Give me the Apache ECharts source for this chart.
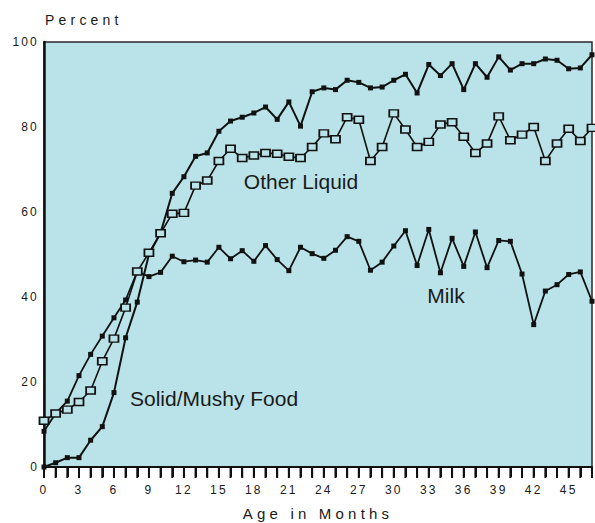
<!DOCTYPE html>
<html>
<head>
<meta charset="utf-8">
<script src="https://cdn.jsdelivr.net/npm/echarts@6/dist/echarts.min.js"></script>
<style>
  html, body { margin: 0; padding: 0; background: #ffffff; }
  #chart { width: 595px; height: 523px; }
</style>
</head>
<body>
<div id="chart"></div>
<script>
// ---- data ----
const months = [0,1,2,3,4,5,6,7,8,9,10,11,12,13,14,15,16,17,18,19,20,21,22,23,24,25,26,27,28,29,30,31,32,33,34,35,36,37,38,39,40,41,42,43,44,45,46,47];

const solidFood = [0, 1, 2.2, 2.2, 6.3, 9.5, 17.5, 30.4, 38.8, 50, 55.1, 64.4, 68.3, 73.1, 73.9, 79, 81.4, 82.3, 83.3, 84.7, 81.8, 85.9, 80.2, 88.3, 89.2, 88.8, 91, 90.5, 89.2, 89.4, 91, 92.4, 88, 94.7, 92.1, 94.9, 88.8, 94.9, 91.7, 96.5, 93.4, 94.9, 94.9, 96, 95.7, 93.7, 93.9, 97];

const otherLiquid = [10.9, 12.6, 13.5, 15.3, 18, 24.9, 30.2, 37.5, 46, 50.4, 55, 59.6, 59.8, 66.2, 67.4, 72, 74.9, 72.7, 73.3, 73.9, 73.7, 73, 72.7, 75.3, 78.5, 77.1, 82.3, 81.7, 72, 75.3, 83.2, 79.4, 75.3, 76.5, 80.6, 81.1, 77.7, 73.9, 76.1, 82.5, 76.9, 78.2, 80, 72, 76.1, 79.6, 76.7, 79.8];

const milk = [8.4, 12.6, 15.5, 21.5, 26.5, 30.8, 35.1, 39.3, 46, 44.8, 45.8, 49.6, 48.3, 48.7, 48.2, 51.7, 49, 50.9, 48.4, 52.1, 48.8, 46.2, 51.7, 50.2, 49.1, 51, 54.2, 53.1, 46.3, 48.2, 52, 55.6, 47.4, 55.9, 45.7, 53.8, 47.2, 55.3, 46.9, 53.3, 53.1, 45.4, 33.5, 41.4, 42.9, 45.3, 45.9, 39];

const yMin = 0, yMax = 100, yStep = 20;
const xMin = 0, xMax = 47, xTickStep = 1, xLabelEvery = 3;
const seriesNames = ['Solid/Mushy Food', 'Other Liquid', 'Milk'];
const yTitle = 'Percent';
const xTitle = 'Age in Months';

function pairs(vals) { return vals.map(function (v, i) { return [months[i], v]; }); }

// ---- chart ----
const FONT = '"Liberation Sans", Arial, Helvetica, sans-serif';
const PLOT_BG = '#b9e3e8';
const TICK_LEN = 10;
const chart = echarts.init(document.getElementById('chart'), null, { renderer: 'svg' });

const option = {
  animation: false,
  backgroundColor: '#ffffff',
  grid: {
    left: 44, right: 1, top: 42, bottom: 56,
    show: true, backgroundColor: PLOT_BG, borderColor: '#2a2a2a', borderWidth: 1.5
  },
  xAxis: {
    type: 'value',
    min: xMin, max: xMax, interval: xTickStep,
    axisLine: { show: true, onZero: false, lineStyle: { color: '#111', width: 2 } },
    axisTick: { show: true, inside: false, length: TICK_LEN, lineStyle: { color: '#111', width: 2 } },
    axisLabel: {
      margin: 17, color: '#1a1a1a', fontSize: 12, fontFamily: FONT,
      formatter: function (v) { return (v % xLabelEvery === 0 && v <= 45) ? String(v) : ''; }
    },
    splitLine: { show: false }
  },
  yAxis: {
    type: 'value',
    min: yMin, max: yMax, interval: yStep,
    axisLine: { show: true, lineStyle: { color: '#111', width: 2.5 } },
    axisTick: { show: false },
    axisLabel: { margin: 5, color: '#1a1a1a', fontSize: 12, fontFamily: FONT },
    splitLine: { show: false }
  },
  series: [
    {
      name: seriesNames[0], type: 'line', data: pairs(solidFood),
      symbol: 'rect', symbolSize: 5,
      lineStyle: { color: '#111', width: 2 }, itemStyle: { color: '#111' }, z: 3
    },
    {
      name: seriesNames[1], type: 'line', data: pairs(otherLiquid),
      symbol: 'rect', symbolSize: [9, 7],
      lineStyle: { color: '#111', width: 1.6 },
      itemStyle: { color: PLOT_BG, borderColor: '#111', borderWidth: 1.6 }, z: 4
    },
    {
      name: seriesNames[2], type: 'line', data: pairs(milk),
      symbol: 'rect', symbolSize: 5,
      lineStyle: { color: '#111', width: 1.8 }, itemStyle: { color: '#111' }, z: 3
    }
  ],
  graphic: [
    { type: 'text', left: 45, top: 13, style: { text: yTitle, font: '14px ' + FONT, fill: '#1a1a1a' } },
    { type: 'text', x: 318, y: 513, style: { text: xTitle, font: '15px ' + FONT, fill: '#1a1a1a', textAlign: 'center', textVerticalAlign: 'middle' } },
    { type: 'text', x: 301, y: 181, style: { text: seriesNames[1], font: '21px ' + FONT, fill: '#1a1a1a', textAlign: 'center', textVerticalAlign: 'middle' }, z: 10 },
    { type: 'text', x: 446, y: 295, style: { text: seriesNames[2], font: '21px ' + FONT, fill: '#1a1a1a', textAlign: 'center', textVerticalAlign: 'middle' }, z: 10 },
    { type: 'text', x: 130, y: 398, style: { text: seriesNames[0], font: '21px ' + FONT, fill: '#1a1a1a', textAlign: 'left', textVerticalAlign: 'middle' }, z: 10 }
  ]
};
chart.setOption(option);

// month tick marks under the x axis, positioned through the x scale
const tickEls = months.map(function (m) {
  const p = chart.convertToPixel({ xAxisIndex: 0, yAxisIndex: 0 }, [m, yMin]);
  return { type: 'rect', z: 50, silent: true, shape: { x: p[0] - 1, y: p[1] + 1, width: 2, height: TICK_LEN }, style: { fill: '#111' } };
});
chart.setOption({ graphic: option.graphic.concat(tickEls) });

// wider tracking of the axis texts, as in the printed original
function applySpacing() {
  document.querySelectorAll('#chart svg text').forEach(function (t) {
    const s = t.textContent;
    if (s === yTitle || s === xTitle) t.style.letterSpacing = '4.2px';
    else if (/^\d+$/.test(s)) t.style.letterSpacing = '2.2px';
  });
}
applySpacing();
chart.on('finished', applySpacing);
</script>
</body>
</html>
